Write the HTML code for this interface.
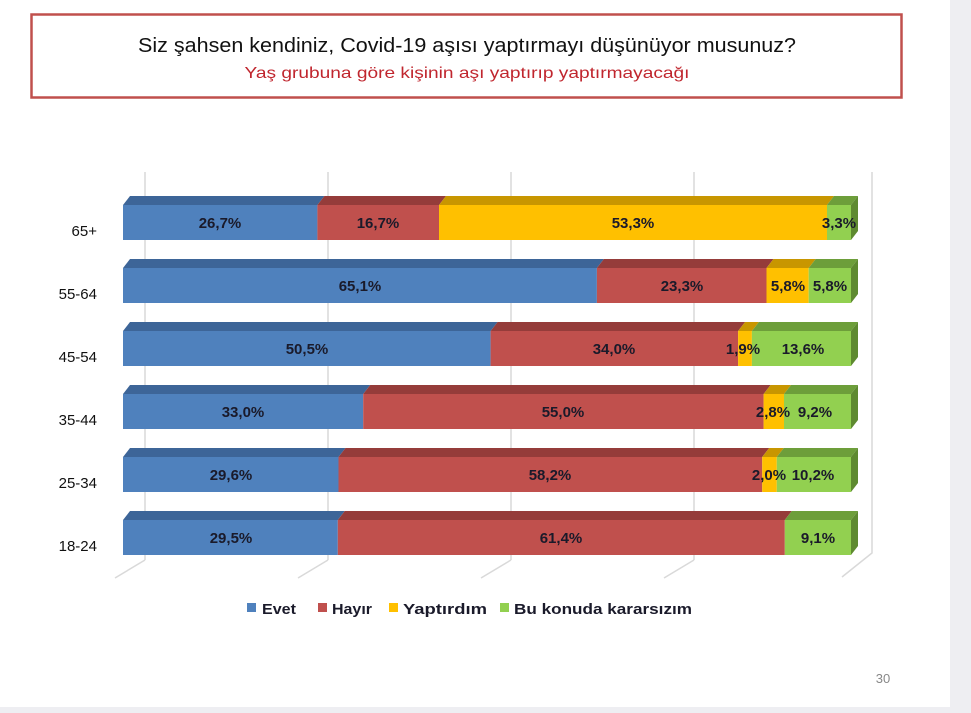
<!DOCTYPE html>
<html><head><meta charset="utf-8"><style>
html,body{margin:0;padding:0;background:#fff}
svg{display:block}
text{font-family:"Liberation Sans",sans-serif}
</style></head><body>
<svg width="971" height="713" viewBox="0 0 971 713" xmlns="http://www.w3.org/2000/svg">
<rect x="0" y="0" width="971" height="713" fill="#fff"/>
<rect x="950" y="0" width="21" height="713" fill="#eeeef2"/>
<rect x="0" y="707" width="971" height="6" fill="#eeeef2"/>
<rect x="31.5" y="14.5" width="870" height="83" fill="#fff" stroke="#c0504d" stroke-width="2.5"/>
<text x="467" y="52" font-size="20" text-anchor="middle" fill="#111" textLength="658" lengthAdjust="spacingAndGlyphs">Siz şahsen kendiniz, Covid-19 aşısı yaptırmayı düşünüyor musunuz?</text>
<text x="467" y="78" font-size="16" text-anchor="middle" fill="#c0262e" textLength="445" lengthAdjust="spacingAndGlyphs">Yaş grubuna göre kişinin aşı yaptırıp yaptırmayacağı</text>
<g stroke="#d9d9d9" stroke-width="1.5" fill="none">
<line x1="145" y1="172" x2="145" y2="560"/><line x1="328" y1="172" x2="328" y2="560"/><line x1="511" y1="172" x2="511" y2="560"/><line x1="694" y1="172" x2="694" y2="560"/>
<polyline points="872,172 872,553 842,577"/>
<line x1="145" y1="560" x2="115" y2="578"/><line x1="328" y1="560" x2="298" y2="578"/><line x1="511" y1="560" x2="481" y2="578"/><line x1="694" y1="560" x2="664" y2="578"/>
</g>
<g font-size="15" fill="#111">
<text x="97" y="236" text-anchor="end">65+</text>
<text x="97" y="299" text-anchor="end">55-64</text>
<text x="97" y="362" text-anchor="end">45-54</text>
<text x="97" y="425" text-anchor="end">35-44</text>
<text x="97" y="488" text-anchor="end">25-34</text>
<text x="97" y="551" text-anchor="end">18-24</text>
</g>
<g>
<polygon points="123,205 130,196 324.4,196 317.4,205" fill="#3d6598"/>
<polygon points="317.4,205 324.4,196 446,196 439,205" fill="#953c3a"/>
<polygon points="439,205 446,196 834,196 827,205" fill="#c89600"/>
<polygon points="827,205 834,196 858,196 851,205" fill="#6d9e3a"/>
<polygon points="851,205 858,196 858,231 851,240" fill="#5e8a30"/>
<rect x="123" y="205" width="194.4" height="35" fill="#4f81bd"/>
<rect x="317.4" y="205" width="121.6" height="35" fill="#c0504d"/>
<rect x="439" y="205" width="388" height="35" fill="#ffc000"/>
<rect x="827" y="205" width="24" height="35" fill="#92d050"/>
</g>
<g>
<polygon points="123,268 130,259 603.9,259 596.9,268" fill="#3d6598"/>
<polygon points="596.9,268 603.9,259 773.5,259 766.5,268" fill="#953c3a"/>
<polygon points="766.5,268 773.5,259 815.7,259 808.7,268" fill="#c89600"/>
<polygon points="808.7,268 815.7,259 858,259 851,268" fill="#6d9e3a"/>
<polygon points="851,268 858,259 858,294 851,303" fill="#5e8a30"/>
<rect x="123" y="268" width="473.9" height="35" fill="#4f81bd"/>
<rect x="596.9" y="268" width="169.6" height="35" fill="#c0504d"/>
<rect x="766.5" y="268" width="42.2" height="35" fill="#ffc000"/>
<rect x="808.7" y="268" width="42.3" height="35" fill="#92d050"/>
</g>
<g>
<polygon points="123,331 130,322 497.6,322 490.6,331" fill="#3d6598"/>
<polygon points="490.6,331 497.6,322 745.1,322 738.1,331" fill="#953c3a"/>
<polygon points="738.1,331 745.1,322 758.9,322 751.9,331" fill="#c89600"/>
<polygon points="751.9,331 758.9,322 858,322 851,331" fill="#6d9e3a"/>
<polygon points="851,331 858,322 858,357 851,366" fill="#5e8a30"/>
<rect x="123" y="331" width="367.6" height="35" fill="#4f81bd"/>
<rect x="490.6" y="331" width="247.5" height="35" fill="#c0504d"/>
<rect x="738.1" y="331" width="13.8" height="35" fill="#ffc000"/>
<rect x="751.9" y="331" width="99.1" height="35" fill="#92d050"/>
</g>
<g>
<polygon points="123,394 130,385 370.2,385 363.2,394" fill="#3d6598"/>
<polygon points="363.2,394 370.2,385 770.6,385 763.6,394" fill="#953c3a"/>
<polygon points="763.6,394 770.6,385 791,385 784,394" fill="#c89600"/>
<polygon points="784,394 791,385 858,385 851,394" fill="#6d9e3a"/>
<polygon points="851,394 858,385 858,420 851,429" fill="#5e8a30"/>
<rect x="123" y="394" width="240.2" height="35" fill="#4f81bd"/>
<rect x="363.2" y="394" width="400.4" height="35" fill="#c0504d"/>
<rect x="763.6" y="394" width="20.4" height="35" fill="#ffc000"/>
<rect x="784" y="394" width="67" height="35" fill="#92d050"/>
</g>
<g>
<polygon points="123,457 130,448 345.5,448 338.5,457" fill="#3d6598"/>
<polygon points="338.5,457 345.5,448 769.2,448 762.2,457" fill="#953c3a"/>
<polygon points="762.2,457 769.2,448 783.8,448 776.8,457" fill="#c89600"/>
<polygon points="776.8,457 783.8,448 858,448 851,457" fill="#6d9e3a"/>
<polygon points="851,457 858,448 858,483 851,492" fill="#5e8a30"/>
<rect x="123" y="457" width="215.5" height="35" fill="#4f81bd"/>
<rect x="338.5" y="457" width="423.7" height="35" fill="#c0504d"/>
<rect x="762.2" y="457" width="14.6" height="35" fill="#ffc000"/>
<rect x="776.8" y="457" width="74.2" height="35" fill="#92d050"/>
</g>
<g>
<polygon points="123,520 130,511 344.8,511 337.8,520" fill="#3d6598"/>
<polygon points="337.8,520 344.8,511 791.8,511 784.8,520" fill="#953c3a"/>
<polygon points="784.8,520 791.8,511 858,511 851,520" fill="#6d9e3a"/>
<polygon points="851,520 858,511 858,546 851,555" fill="#5e8a30"/>
<rect x="123" y="520" width="214.8" height="35" fill="#4f81bd"/>
<rect x="337.8" y="520" width="447" height="35" fill="#c0504d"/>
<rect x="784.8" y="520" width="66.2" height="35" fill="#92d050"/>
</g>
<g font-size="15" font-weight="bold" fill="#1a1a2a" text-anchor="middle">
<text x="220" y="228">26,7%</text><text x="378" y="228">16,7%</text><text x="633" y="228">53,3%</text><text x="839" y="228">3,3%</text>
<text x="360" y="291">65,1%</text><text x="682" y="291">23,3%</text><text x="788" y="291">5,8%</text><text x="830" y="291">5,8%</text>
<text x="307" y="354">50,5%</text><text x="614" y="354">34,0%</text><text x="743" y="354">1,9%</text><text x="803" y="354">13,6%</text>
<text x="243" y="417">33,0%</text><text x="563" y="417">55,0%</text><text x="773" y="417">2,8%</text><text x="815" y="417">9,2%</text>
<text x="231" y="480">29,6%</text><text x="550" y="480">58,2%</text><text x="769" y="480">2,0%</text><text x="813" y="480">10,2%</text>
<text x="231" y="543">29,5%</text><text x="561" y="543">61,4%</text><text x="818" y="543">9,1%</text>
</g>
<g font-size="15" font-weight="bold" fill="#1a1a2a">
<rect x="247" y="603" width="9" height="9" fill="#4f81bd"/><text x="262" y="614" textLength="34" lengthAdjust="spacingAndGlyphs">Evet</text>
<rect x="318" y="603" width="9" height="9" fill="#c0504d"/><text x="332" y="614" textLength="40" lengthAdjust="spacingAndGlyphs">Hayır</text>
<rect x="389" y="603" width="9" height="9" fill="#ffc000"/><text x="403" y="614" textLength="84" lengthAdjust="spacingAndGlyphs">Yaptırdım</text>
<rect x="500" y="603" width="9" height="9" fill="#92d050"/><text x="514" y="614" textLength="178" lengthAdjust="spacingAndGlyphs">Bu konuda kararsızım</text>
</g>
<text x="883" y="683" font-size="13" fill="#888" text-anchor="middle">30</text>
</svg>
</body></html>
